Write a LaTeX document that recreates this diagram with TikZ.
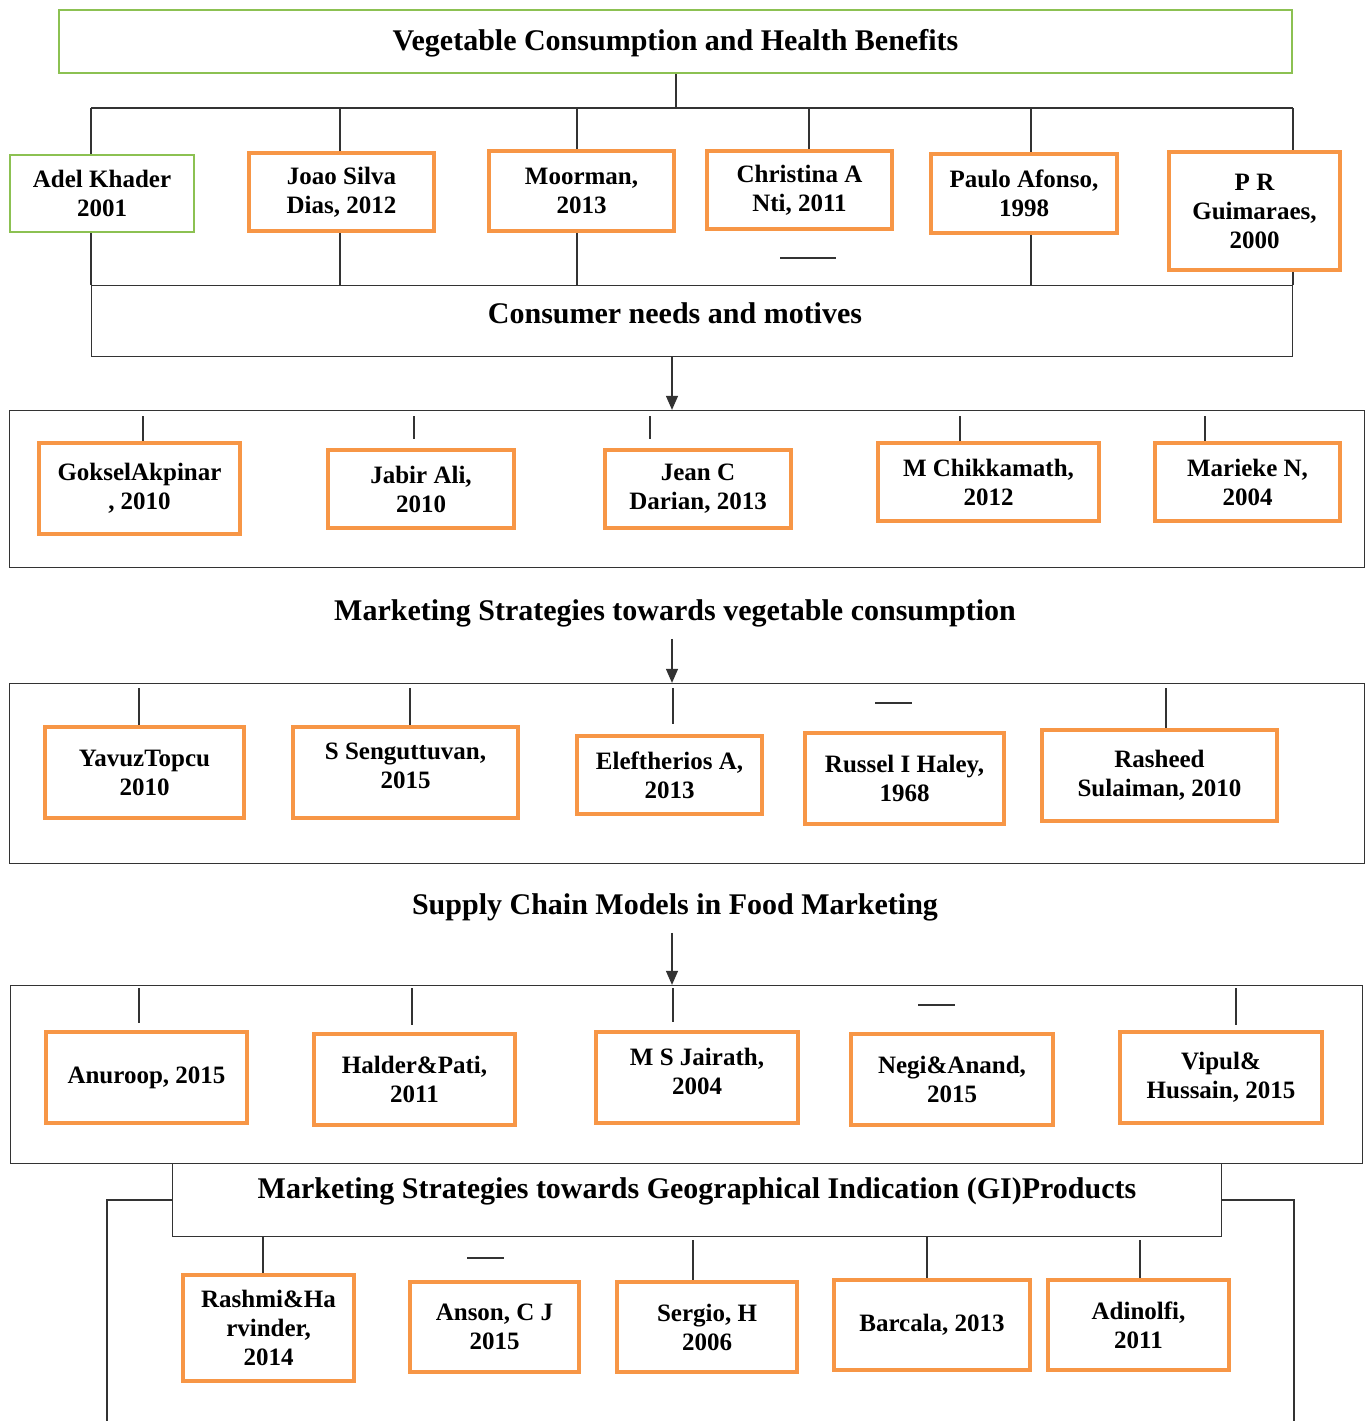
\documentclass[tikz,border=0pt]{standalone}
\usepackage{fontspec}
\setmainfont{Liberation Serif}
\usetikzlibrary{arrows.meta}
\definecolor{orng}{HTML}{F79646}
\definecolor{grn}{HTML}{8CC152}
\definecolor{lne}{HTML}{333333}
\newcommand\myboxfont{\fontsize{25}{29}\selectfont\bfseries}
\newcommand\mytitlefont{\fontsize{30}{34}\selectfont\bfseries}
\newcommand\placebox[7]{\node[#7, minimum width={(#4-#2-4)*1pt}, minimum height={(#5-#3-4)*1pt}] (#1) at ({(#2+#4)/2},{(#3+#5)/2}) {#6};}
\newcommand\placeframe[7]{\node[#7, minimum width={(#4-#2-1)*1pt}, minimum height={(#5-#3-1)*1pt}] (#1) at ({(#2+#4)/2},{(#3+#5)/2}) {#6};}
\tikzset{
  ln/.style={draw=lne, line width=1.3pt},
  arr/.style={ln, -{Triangle[length=14pt,width=12pt]}},
  refbox/.style={draw=orng, line width=4.5pt, fill=white, align=center, inner sep=0pt, font=\myboxfont},
  greenbox/.style={draw=grn, line width=2.5pt, fill=white, align=center, inner sep=0pt, font=\myboxfont},
  greentitle/.style={draw=grn, line width=2.5pt, fill=white, align=center, inner sep=0pt, font=\mytitlefont},
  framebox/.style={draw=lne, line width=1.3pt, inner sep=0pt, align=center, font=\mytitlefont},
  ttl/.style={inner sep=0pt, font=\mytitlefont}
}
\begin{document}
\begin{tikzpicture}[x=1pt,y=-1pt]
\useasboundingbox[fill=white] (0,0) rectangle (1369,1421);

% ---------- top ----------
\placebox{title}{57}{8}{1294}{75}{Vegetable Consumption and Health Benefits}{greentitle, text depth=3pt}
\placeframe{cons}{91}{285}{1293}{357}{Consumer needs and motives\hspace*{34pt}}{framebox, text depth=16pt}

\placebox{adel}{8}{153}{196}{234}{Adel Khader\\2001}{greenbox}
\placebox{joao}{247}{151}{436}{233}{Joao Silva\\Dias, 2012}{refbox}
\placebox{moor}{487}{149}{676}{233}{Moorman,\\2013}{refbox}
\placebox{chri}{705}{149}{894}{231}{Christina A\\Nti, 2011}{refbox}
\placebox{paulo}{929}{152}{1119}{235}{Paulo Afonso,\\1998}{refbox}
\placebox{prg}{1167}{150}{1342}{272}{P R\\Guimaraes,\\2000}{refbox}

\draw[ln] (title.south -| 676,0) -- (676,108);
\draw[ln] (91,108) -- (1293,108);
\draw[ln] (91,108) -- (91,0 |- adel.north);
\draw[ln] (91,0 |- adel.south) -- (91,0 |- cons.north);
\draw[ln] (340,108) -- (340,0 |- joao.north);
\draw[ln] (340,0 |- joao.south) -- (340,0 |- cons.north);
\draw[ln] (577,108) -- (577,0 |- moor.north);
\draw[ln] (577,0 |- moor.south) -- (577,0 |- cons.north);
\draw[ln] (809,108) -- (809,0 |- chri.north);
\draw[ln] (780,258) -- (836,258);
\draw[ln] (1031,108) -- (1031,0 |- paulo.north);
\draw[ln] (1031,0 |- paulo.south) -- (1031,0 |- cons.north);
\draw[ln] (1293,108) -- (1293,0 |- prg.north);
\draw[ln] (1293,0 |- prg.south) -- (1293,0 |- cons.north);

% ---------- block 2 ----------
\placeframe{fB}{9}{410}{1365}{568}{}{framebox}
\draw[arr] (672,0 |- cons.south) -- (672,0 |- fB.north);
\placebox{gok}{37}{441}{242}{536}{GokselAkpinar\\, 2010}{refbox}
\placebox{jab}{326}{448}{516}{530}{Jabir Ali,\\2010}{refbox}
\placebox{jean}{603}{448}{793}{530}{Jean C\\Darian, 2013}{refbox}
\placebox{chik}{876}{441}{1101}{523}{M Chikkamath,\\2012}{refbox}
\placebox{mar}{1153}{441}{1342}{523}{Marieke N,\\2004}{refbox}
\draw[ln] (143,416) -- (143,0 |- gok.north);
\draw[ln] (414,416) -- (414,439);
\draw[ln] (650,416) -- (650,439);
\draw[ln] (960,416) -- (960,0 |- chik.north);
\draw[ln] (1205,416) -- (1205,0 |- mar.north);

\node[ttl] (msveg) at (675,613) {Marketing Strategies towards vegetable consumption};

% ---------- block 3 ----------
\placeframe{fC}{9}{683}{1365}{864}{}{framebox}
\draw[arr] (672,0 |- msveg.south) ++(0,12) -- (672,0 |- fC.north);
\placebox{yav}{43}{725}{246}{820}{YavuzTopcu\\2010}{refbox}
\placebox{sen}{291}{725}{520}{820}{S Senguttuvan,\\2015}{refbox, text depth=14pt}
\placebox{ele}{575}{734}{764}{816}{Eleftherios A,\\2013}{refbox}
\placebox{rus}{803}{731}{1006}{826}{Russel I Haley,\\1968}{refbox}
\placebox{ras}{1040}{728}{1279}{823}{Rasheed\\Sulaiman, 2010}{refbox}
\draw[ln] (139,688) -- (139,0 |- yav.north);
\draw[ln] (410,688) -- (410,0 |- sen.north);
\draw[ln] (673,688) -- (673,724);
\draw[ln] (875,703) -- (912,703);
\draw[ln] (1166,688) -- (1166,0 |- ras.north);

\node[ttl] (scm) at (675,907) {Supply Chain Models in Food Marketing};

% ---------- block 4 ----------
\placeframe{fD}{10}{985}{1363}{1164}{}{framebox}
\draw[arr] (672,0 |- scm.south) ++(0,12) -- (672,0 |- fD.north);
\placebox{anu}{44}{1030}{249}{1125}{Anuroop, 2015}{refbox}
\placebox{hal}{312}{1032}{517}{1127}{Halder\&Pati,\\2011}{refbox}
\placebox{jai}{594}{1030}{800}{1125}{M S Jairath,\\2004}{refbox, text depth=12pt}
\placebox{negi}{849}{1032}{1055}{1127}{Negi\&Anand,\\2015}{refbox}
\placebox{vip}{1118}{1030}{1324}{1125}{Vipul\&\\Hussain, 2015}{refbox}
\draw[ln] (139,988) -- (139,1023);
\draw[ln] (412,988) -- (412,1025);
\draw[ln] (673,988) -- (673,1022);
\draw[ln] (918,1005) -- (955,1005);
\draw[ln] (1236,988) -- (1236,1025);

% ---------- block 5 ----------
\placeframe{gi}{172}{1163}{1222}{1237}{Marketing Strategies towards Geographical Indication (GI)Products}{framebox, text depth=24pt}
\draw[ln] (gi.west |- 0,1200) -- (107,1200) -- (107,1421);
\draw[ln] (gi.east |- 0,1200) -- (1294,1200) -- (1294,1421);
\placebox{rash}{181}{1273}{356}{1383}{Rashmi\&Ha\\rvinder,\\2014}{refbox}
\placebox{ans}{408}{1280}{581}{1374}{Anson, C J\\2015}{refbox}
\placebox{ser}{615}{1280}{799}{1374}{Sergio, H\\2006}{refbox}
\placebox{bar}{832}{1278}{1032}{1372}{Barcala, 2013}{refbox}
\placebox{adi}{1046}{1278}{1231}{1372}{Adinolfi,\\2011}{refbox}
\draw[ln] (263,0 |- gi.south) -- (263,0 |- rash.north);
\draw[ln] (467,1258) -- (504,1258);
\draw[ln] (693,1240) -- (693,0 |- ser.north);
\draw[ln] (927,0 |- gi.south) -- (927,0 |- bar.north);
\draw[ln] (1140,1240) -- (1140,0 |- adi.north);
\end{tikzpicture}
\end{document}
